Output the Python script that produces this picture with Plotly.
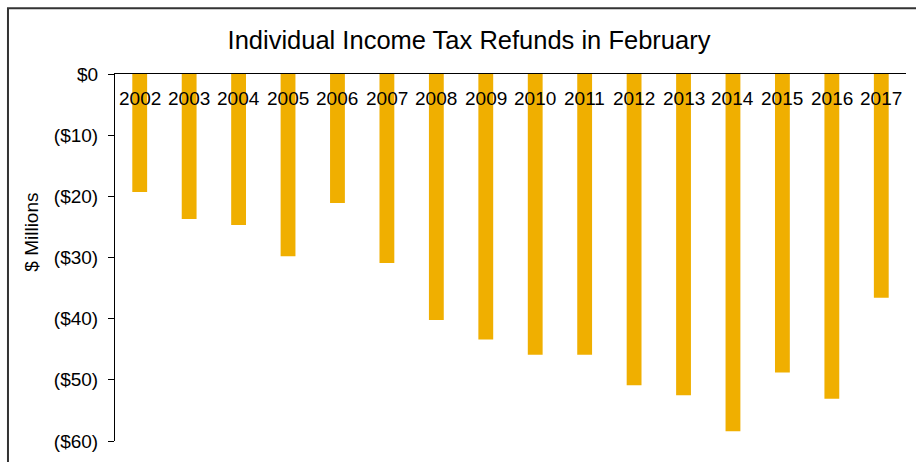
import plotly.graph_objects as go

years = ["2002", "2003", "2004", "2005", "2006", "2007", "2008", "2009",
         "2010", "2011", "2012", "2013", "2014", "2015", "2016", "2017"]
refunds = [-19.3, -23.7, -24.7, -29.8, -21.1, -30.9, -40.2, -43.4,
           -45.9, -45.9, -50.9, -52.5, -58.4, -48.8, -53.1, -36.6]
tick_vals = [0, -10, -20, -30, -40, -50, -60]
tick_text = ["$0", "($10)", "($20)", "($30)", "($40)", "($50)", "($60)"]

FONT = "Liberation Sans, Arial, sans-serif"

fig = go.Figure()
fig.add_trace(go.Bar(
    x=years, y=refunds, marker_color="#F0AF00", marker_line_width=0,
    width=0.3, showlegend=False, hoverinfo="x+y"))

annotations = []
for i, yr in enumerate(years):
    annotations.append(dict(
        x=i, y=0, xref="x", yref="y", text=yr, showarrow=False,
        yanchor="middle", yshift=-24, font=dict(family=FONT, size=19, color="black")))
annotations.append(dict(
    x=-0.106, y=0.568, xref="paper", yref="paper", text="$ Millions", showarrow=False,
    xanchor="center", yanchor="middle",
    textangle=-90, font=dict(family=FONT, size=19, color="black")))

fig.update_layout(
    width=916, height=462,
    margin=dict(l=115, r=10, t=74, b=19),
    paper_bgcolor="white", plot_bgcolor="white",
    font=dict(family=FONT, size=18, color="black"),
    title=dict(text="Individual Income Tax Refunds in February",
               x=0.512, xanchor="center", y=0.913, yanchor="middle",
               font=dict(family=FONT, size=25.5, color="black")),
    xaxis=dict(type="category", showticklabels=False, showline=True,
               linecolor="black", linewidth=1, ticks="", showgrid=False,
               zeroline=False, side="top", range=[-0.5, 15.5]),
    yaxis=dict(range=[-60, 0], tickvals=tick_vals, ticktext=tick_text,
               showline=True, linecolor="black", linewidth=1, ticks="outside",
               ticklen=6, tickcolor="black", showgrid=False, zeroline=False,
               ticklabelstandoff=6, tickfont=dict(family=FONT, size=19, color="black")),
    annotations=annotations,
    shapes=[dict(type="rect", xref="paper", yref="paper",
                 x0=-0.1353, x1=1.2, y0=-0.3, y1=1.1789,
                 line=dict(color="#333333", width=2), fillcolor="rgba(0,0,0,0)",
                 layer="below")],
)

fig.write_html("out.html")
